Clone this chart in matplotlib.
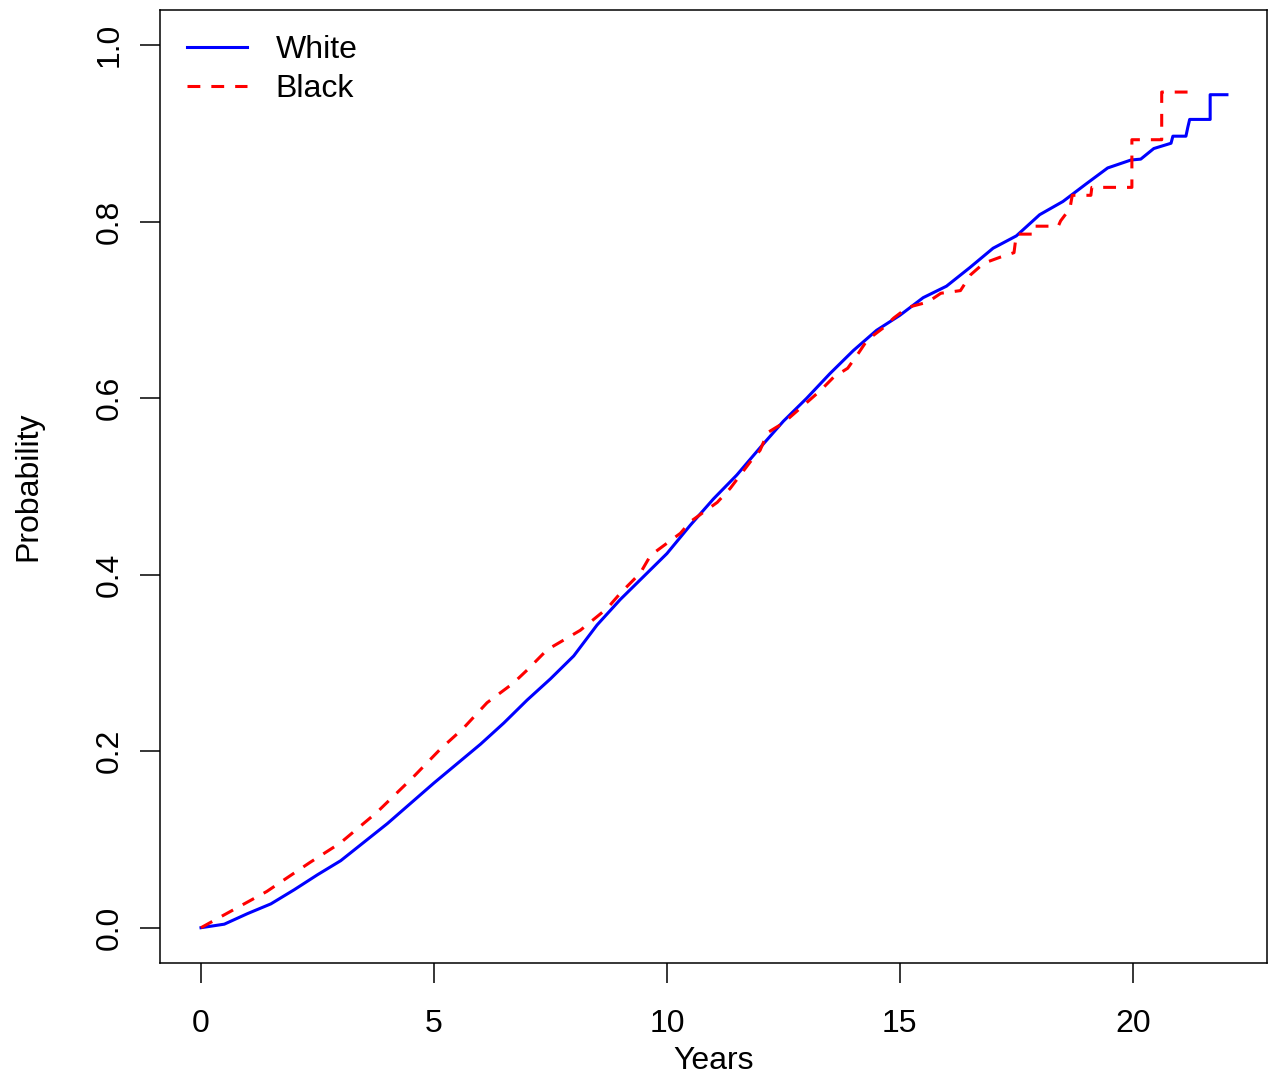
import numpy as np
import matplotlib
matplotlib.use("Agg")
import matplotlib.pyplot as plt

plt.rcParams["font.family"] = ["Liberation Sans", "DejaVu Sans"]

# cumulative probability curves (years, probability)
white_t = [0, 0.5, 1, 1.5, 2, 2.5, 3, 3.5, 4, 4.5, 5, 5.5, 6, 6.5, 7, 7.5, 8, 8.5,
           9, 9.5, 10, 10.5, 11, 11.5, 12, 12.5, 13, 13.5, 14, 14.5, 15, 15.5, 16,
           16.5, 17, 17.5, 18, 18.5, 19, 19.46, 19.96, 20.17, 20.45, 20.82, 20.86,
           21.14, 21.18, 21.22, 21.66, 21.66, 22.02]
white_p = [0, 0.004, 0.016, 0.027, 0.043, 0.060, 0.076, 0.097, 0.118, 0.141, 0.164,
           0.186, 0.208, 0.232, 0.258, 0.282, 0.308, 0.343, 0.372, 0.398, 0.424,
           0.456, 0.486, 0.513, 0.544, 0.574, 0.600, 0.628, 0.654, 0.677, 0.694,
           0.714, 0.727, 0.748, 0.770, 0.784, 0.808, 0.823, 0.843, 0.861, 0.870,
           0.871, 0.883, 0.889, 0.897, 0.897, 0.907, 0.916, 0.916, 0.944, 0.944]

black_t = [0, 0.41, 1.41, 2.34, 2.99, 3.78, 4.56, 5.13, 5.63, 6.14, 6.70, 7.0, 7.43,
           8.14, 8.72, 9.0, 9.43, 9.65, 10.29, 10.5, 11.08, 11.36, 11.79, 12.0,
           12.16, 12.5, 13.02, 13.3, 13.58, 13.88, 14.11, 14.3, 14.65, 14.87, 15.17,
           15.6, 15.88, 16.3, 16.52, 16.8, 17.16, 17.45, 17.5, 17.85, 17.87, 18.4,
           18.45, 18.65, 18.7, 19.1, 19.12, 19.98, 19.98, 20.62, 20.62, 21.31]
black_p = [0, 0.012, 0.041, 0.074, 0.096, 0.131, 0.171, 0.202, 0.226, 0.255, 0.277,
           0.292, 0.315, 0.337, 0.362, 0.379, 0.402, 0.422, 0.447, 0.460, 0.482,
           0.498, 0.528, 0.541, 0.561, 0.572, 0.596, 0.609, 0.624, 0.634, 0.651,
           0.666, 0.680, 0.691, 0.703, 0.709, 0.719, 0.722, 0.740, 0.753, 0.760,
           0.765, 0.786, 0.786, 0.795, 0.795, 0.801, 0.815, 0.830, 0.830, 0.839,
           0.839, 0.893, 0.893, 0.947, 0.947]

xticks = [0, 5, 10, 15, 20]
yticks = [0.0, 0.2, 0.4, 0.6, 0.8, 1.0]

fig = plt.figure(figsize=(12.68, 10.78), dpi=100)
ax = fig.add_axes([160 / 1268, 1 - 963 / 1078, 1107 / 1268, 953 / 1078])

ax.plot(white_t, white_p, color="blue", lw=2.2, label="White")
ax.plot(black_t, black_p, color="red", lw=2.2, dashes=(4.2, 3.6), label="Black")

ax.set_xlim(-0.88, 22.88)
ax.set_ylim(-0.04, 1.04)
ax.set_xticks(xticks)
ax.set_xticklabels([str(v) for v in xticks])
ax.set_yticks(yticks)
ax.set_yticklabels([f"{v:.1f}" for v in yticks], rotation=90, va="center")
ax.tick_params(direction="out", length=14.4, width=1.1, labelsize=23)
ax.tick_params(axis="x", pad=18.8)
ax.tick_params(axis="y", pad=11.2)
for s in ax.spines.values():
    s.set_linewidth(1.1)

ax.set_xlabel("Years", fontsize=23, labelpad=5.3)
ax.set_ylabel("Probability", fontsize=23, labelpad=37)

ax.legend(loc="upper left", bbox_to_anchor=(0.0244, 0.974), frameon=False,
          fontsize=23, handlelength=1.88, handletextpad=0.9, labelspacing=0.28,
          borderaxespad=0, borderpad=0)

fig.savefig("out.png", dpi=100)
